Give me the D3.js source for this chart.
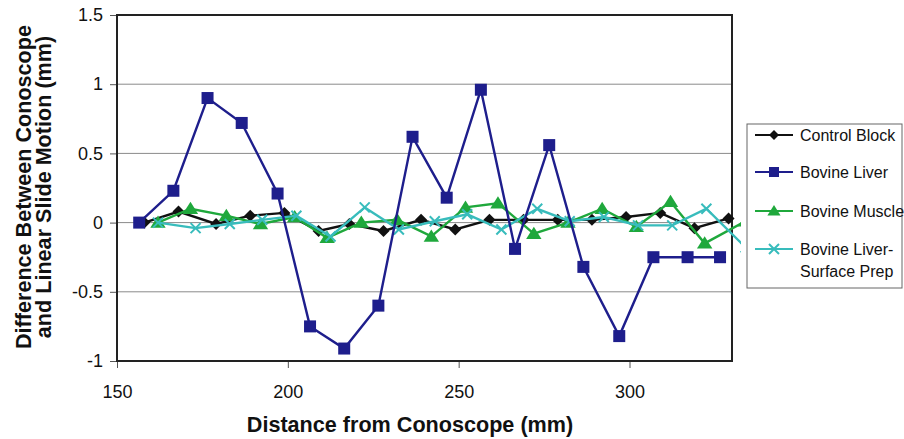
<!DOCTYPE html>
<html>
<head>
<meta charset="utf-8">
<script src="https://cdn.jsdelivr.net/npm/d3@7"></script>
<style>
  body { margin: 0; background: #fff; }
  text { font-family: Arial, "Liberation Sans", sans-serif; }
</style>
</head>
<body>
<div id="chart"></div>
<script>
// series
var controlX = [158, 168, 179, 189, 199, 209, 218, 228, 239, 249, 259, 269, 279, 289, 299, 309, 319, 329]
var controlY = [0.00, 0.08, -0.01, 0.05, 0.07, -0.06, -0.01, -0.06, 0.02, -0.05, 0.02, 0.02, 0.02, 0.02, 0.04, 0.07, -0.04, 0.03]

var liverX = [156.5, 166.5, 176.5, 186.5, 197, 206.5, 216.5, 226.5, 236.5, 246.5, 256.5, 266.5, 276.5, 286.5, 297, 307, 317, 326.5]
var liverY = [0.00, 0.23, 0.90, 0.72, 0.21, -0.75, -0.91, -0.60, 0.62, 0.18, 0.96, -0.19, 0.56, -0.32, -0.82, -0.25, -0.25, -0.25]

var muscleX = [162, 171.5, 182, 192, 202, 211.5, 221.5, 232, 242, 252, 261.5, 272, 282, 292, 302, 312, 322, 334]
var muscleY = [0.00, 0.10, 0.05, -0.01, 0.04, -0.11, 0.00, 0.02, -0.10, 0.11, 0.14, -0.08, 0.00, 0.10, -0.03, 0.15, -0.15, 0.01]

var surfaceX = [162, 173, 183, 192.5, 202.5, 212.5, 222.5, 232.5, 243, 252.5, 262.5, 273, 282.5, 292.5, 302.5, 312.5, 322.5, 334]
var surfaceY = [0.00, -0.04, -0.01, 0.02, 0.05, -0.10, 0.11, -0.05, 0.01, 0.06, -0.05, 0.10, 0.01, 0.04, -0.02, -0.02, 0.10, -0.18]

var seriesNames = ['Control Block', 'Bovine Liver', 'Bovine Muscle', 'Bovine Liver-|Surface Prep']
var xTicks = [150, 200, 250, 300]
var yTicks = [-1, -0.5, 0, 0.5, 1, 1.5]
var yGrid = [-0.5, 0, 0.5, 1]

var W = 904, H = 439
var x = d3.scaleLinear().domain([150, 330]).range([117, 732])
var y = d3.scaleLinear().domain([-1, 1.5]).range([361, 15])

var svg = d3.select('#chart').append('svg')
    .attr('width', W).attr('height', H)

svg.append('defs').append('clipPath').attr('id', 'clip')
    .append('rect').attr('x', 110).attr('y', 10).attr('width', 741 - 110).attr('height', 360)

// gridlines
svg.append('g').selectAll('line')
    .data(yGrid).enter().append('line')
    .attr('x1', x(150)).attr('x2', x(330))
    .attr('y1', d => y(d)).attr('y2', d => y(d))
    .attr('stroke', '#8a8a8a').attr('stroke-width', 1)

// axes
var yAxis = d3.axisLeft(y).tickValues(yTicks).tickSize(7).tickPadding(7)
    .tickFormat(d => String(d))
var gy = svg.append('g').attr('transform', 'translate(' + x(150) + ',0)').call(yAxis)
gy.select('.domain').remove()
gy.selectAll('line').attr('stroke', '#555')
gy.selectAll('text').attr('font-size', 18).attr('fill', '#111')
    .attr('font-family', 'Arial, "Liberation Sans", sans-serif')

var xAxis = d3.axisBottom(x).tickValues(xTicks).tickSize(7).tickPadding(17)
var gx = svg.append('g').attr('transform', 'translate(0,' + y(-1) + ')').call(xAxis)
gx.select('.domain').remove()
gx.selectAll('line').attr('stroke', '#555')
gx.selectAll('text').attr('font-size', 18).attr('fill', '#111')
    .attr('font-family', 'Arial, "Liberation Sans", sans-serif')

// plot border
svg.append('rect')
    .attr('x', x(150)).attr('y', y(1.5))
    .attr('width', x(330) - x(150)).attr('height', y(-1) - y(1.5))
    .attr('fill', 'none').attr('stroke', '#222').attr('stroke-width', 2)

// markers
function marker(g, type, color, s) {
    if (type == 'diamond') {
        g.append('path').attr('d', 'M0,' + (-s) + 'L' + s + ',0L0,' + s + 'L' + (-s) + ',0Z').attr('fill', color)
    } else if (type == 'square') {
        g.append('rect').attr('x', -s).attr('y', -s).attr('width', 2 * s).attr('height', 2 * s).attr('fill', color)
    } else if (type == 'triangle') {
        g.append('path').attr('d', 'M0,' + (-s) + 'L' + (s * 1.1) + ',' + (s * 0.75) + 'L' + (-s * 1.1) + ',' + (s * 0.75) + 'Z').attr('fill', color)
    } else {
        g.append('path').attr('d', 'M' + (-s) + ',' + (-s) + 'L' + s + ',' + s + 'M' + (-s) + ',' + s + 'L' + s + ',' + (-s))
            .attr('stroke', color).attr('stroke-width', 2).attr('fill', 'none')
    }
}

var series = [
    { xs: controlX, ys: controlY, color: '#111111', type: 'diamond', size: 6 },
    { xs: muscleX, ys: muscleY, color: '#1fa83c', type: 'triangle', size: 7 },
    { xs: surfaceX, ys: surfaceY, color: '#38bcbc', type: 'x', size: 5 },
    { xs: liverX, ys: liverY, color: '#1e1e8c', type: 'square', size: 6 }
]

var plotG = svg.append('g').attr('clip-path', 'url(#clip)')
var line = d3.line().x(d => x(d[0])).y(d => y(d[1]))

series.forEach(function(s) {
    var pts = s.xs.map((v, i) => [v, s.ys[i]])
    plotG.append('path').datum(pts)
        .attr('d', line)
        .attr('fill', 'none')
        .attr('stroke', s.color)
        .attr('stroke-width', 2.4)
    plotG.selectAll(null).data(pts).enter().append('g')
        .attr('transform', d => 'translate(' + x(d[0]) + ',' + y(d[1]) + ')')
        .each(function() { marker(d3.select(this), s.type, s.color, s.size) })
})

// axis titles
svg.append('text')
    .attr('x', 410).attr('y', 432)
    .attr('text-anchor', 'middle')
    .attr('font-size', 21.6).attr('font-weight', 'bold').attr('fill', '#111')
    .text('Distance from Conoscope (mm)')

var yTitle = svg.append('text')
    .attr('transform', 'translate(31,187) rotate(-90)')
    .attr('text-anchor', 'middle')
    .attr('font-size', 21.6).attr('font-weight', 'bold').attr('fill', '#111')
yTitle.append('tspan').attr('x', 0).attr('y', 0).text('Difference Between Conoscope')
yTitle.append('tspan').attr('x', 0).attr('y', 20).text('and Linear Slide Motion (mm)')

// legend
var legend = svg.append('g')
legend.append('rect')
    .attr('x', 747).attr('y', 124).attr('width', 155).attr('height', 164)
    .attr('fill', '#fff').attr('stroke', '#666').attr('stroke-width', 1)

var legendStyle = [
    { color: '#111111', type: 'diamond', size: 5, y: 135 },
    { color: '#1e1e8c', type: 'square', size: 5, y: 172 },
    { color: '#1fa83c', type: 'triangle', size: 6, y: 211 },
    { color: '#38bcbc', type: 'x', size: 5, y: 249 }
]

seriesNames.forEach(function(name, i) {
    var ls = legendStyle[i]
    var row = legend.append('g').attr('transform', 'translate(0,' + ls.y + ')')
    row.append('line').attr('x1', 755).attr('x2', 793).attr('y1', 0).attr('y2', 0)
        .attr('stroke', ls.color).attr('stroke-width', 2.2)
    var m = row.append('g').attr('transform', 'translate(774,0)')
    marker(m, ls.type, ls.color, ls.size)
    var parts = name.split('|')
    parts.forEach(function(p, j) {
        row.append('text')
            .attr('x', 800).attr('y', 6 + j * 22)
            .attr('font-size', 16).attr('fill', '#111')
            .text(p)
    })
})
</script>
</body>
</html>
